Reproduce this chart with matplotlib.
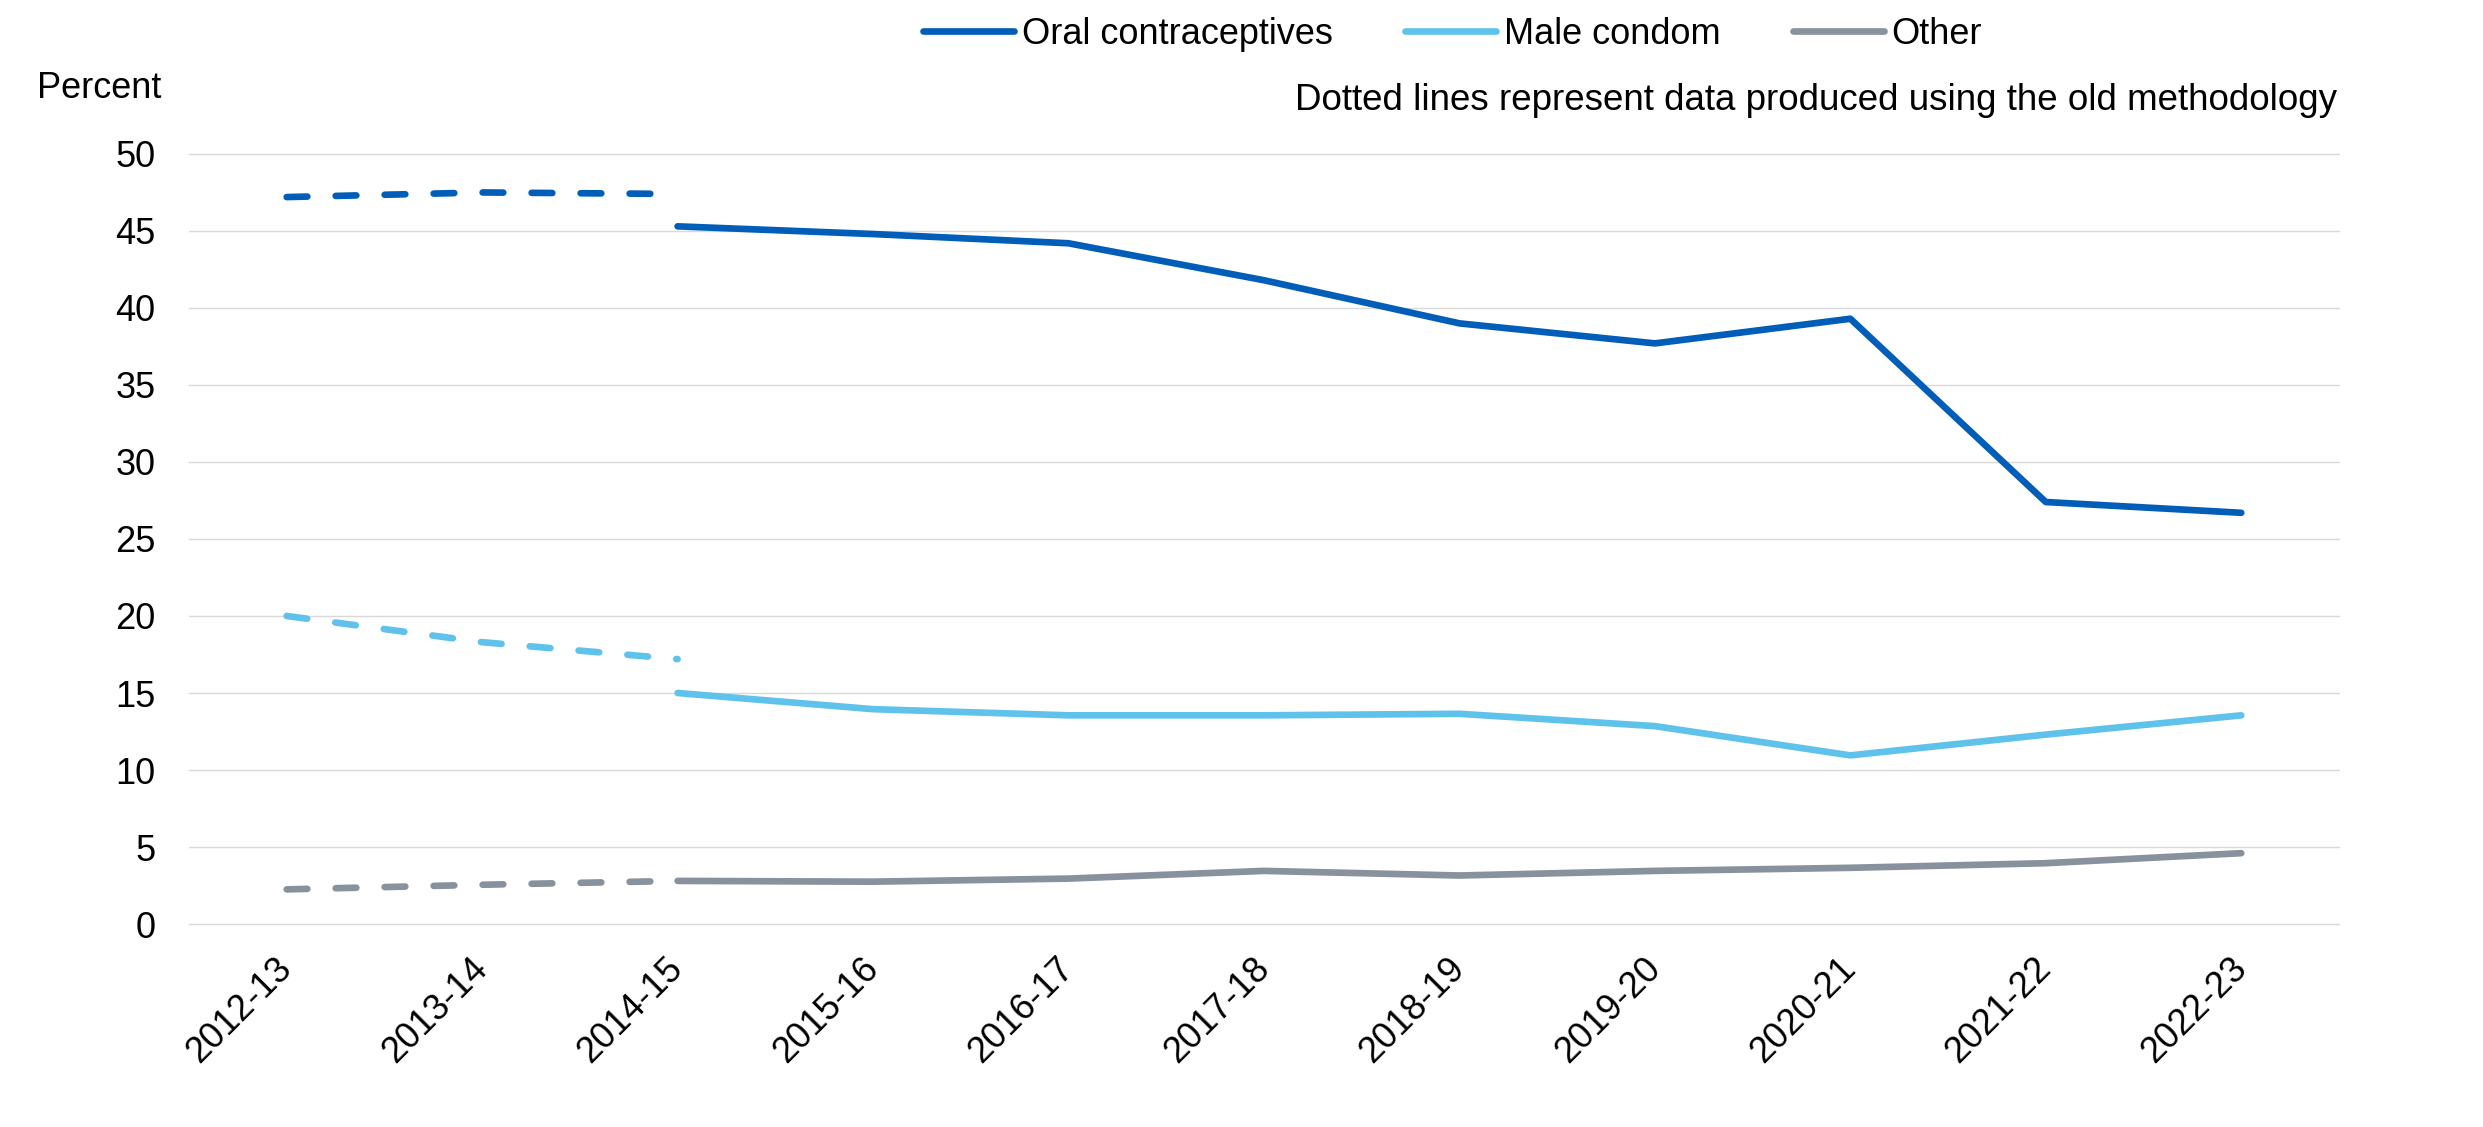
"""
Contraceptive use by method, 2012-13 to 2022-23 (old vs new methodology).
"""
import matplotlib
matplotlib.use('Agg')
import matplotlib.pyplot as plt

plt.rcParams.update({
    'font.family': ['Liberation Sans', 'DejaVu Sans'],
    'font.size': 26,
    'xtick.labelsize': 26,
    'ytick.labelsize': 26,
    'legend.fontsize': 26,
})

years = ['2012-13', '2013-14', '2014-15', '2015-16', '2016-17', '2017-18',
         '2018-19', '2019-20', '2020-21', '2021-22', '2022-23']

# old methodology: 2012-13 to 2014-15
oral_old = [47.2, 47.5, 47.4]
male_old = [20.0, 18.3, 17.2]
other_old = [2.25, 2.55, 2.8]

# new methodology: 2014-15 onwards
oral_new = [45.3, 44.8, 44.2, 41.8, 39.0, 37.7, 39.3, 27.4, 26.7]
male_new = [15.0, 13.95, 13.55, 13.55, 13.65, 12.85, 10.95, 12.3, 13.55]
other_new = [2.8, 2.75, 2.95, 3.45, 3.15, 3.45, 3.65, 3.95, 4.6]

COLORS = {'oral': '#005EB8', 'male': '#5EC2EB', 'other': '#87929C'}
LW = 4.8

fig = plt.figure(figsize=(24.83, 11.27), dpi=100)
ax = fig.add_axes([0.0761, 0.1801, 0.8659, 0.6833])

x_old = list(range(len(oral_old)))
x_new = list(range(2, 2 + len(oral_new)))

for key, label, old, new in [
    ('oral', 'Oral contraceptives', oral_old, oral_new),
    ('male', 'Male condom', male_old, male_new),
    ('other', 'Other', other_old, other_new),
]:
    ax.plot(x_old, old, color=COLORS[key], linewidth=LW, dashes=(3.1, 4.25),
            dash_capstyle='round', zorder=3)
    ax.plot(x_new, new, color=COLORS[key], linewidth=LW, label=label,
            solid_capstyle='round', solid_joinstyle='round', zorder=3)

ax.set_xlim(-0.5, len(years) - 0.5)
ax.set_ylim(0, 50)
ax.set_yticks(range(0, 51, 5))
ax.set_xticks(range(len(years)))
ax.set_xticklabels(years, rotation=45, ha='right', va='center',
                   rotation_mode='anchor')
ax.tick_params(axis='both', length=0)
ax.tick_params(axis='y', pad=24)
ax.tick_params(axis='x', pad=28)
ax.grid(axis='y', color='#D9D9D9', linewidth=1.0)
for gl in ax.get_ygridlines():
    gl.set_clip_on(False)
ax.set_axisbelow(True)
for s in ax.spines.values():
    s.set_visible(False)

fig.text(37 / 2483, 1 - 88 / 1127, 'Percent', ha='left', va='center')
fig.text(2337 / 2483, 1 - 100 / 1127,
         'Dotted lines represent data produced using the old methodology',
         ha='right', va='center', fontsize=26.5)

fig.legend(loc='center', bbox_to_anchor=(0.585, 0.9698), ncol=3, frameon=False,
           handlelength=2.52, handletextpad=0.22, columnspacing=2.0,
           borderpad=0, borderaxespad=0)

fig.savefig('out.png', dpi=100)
